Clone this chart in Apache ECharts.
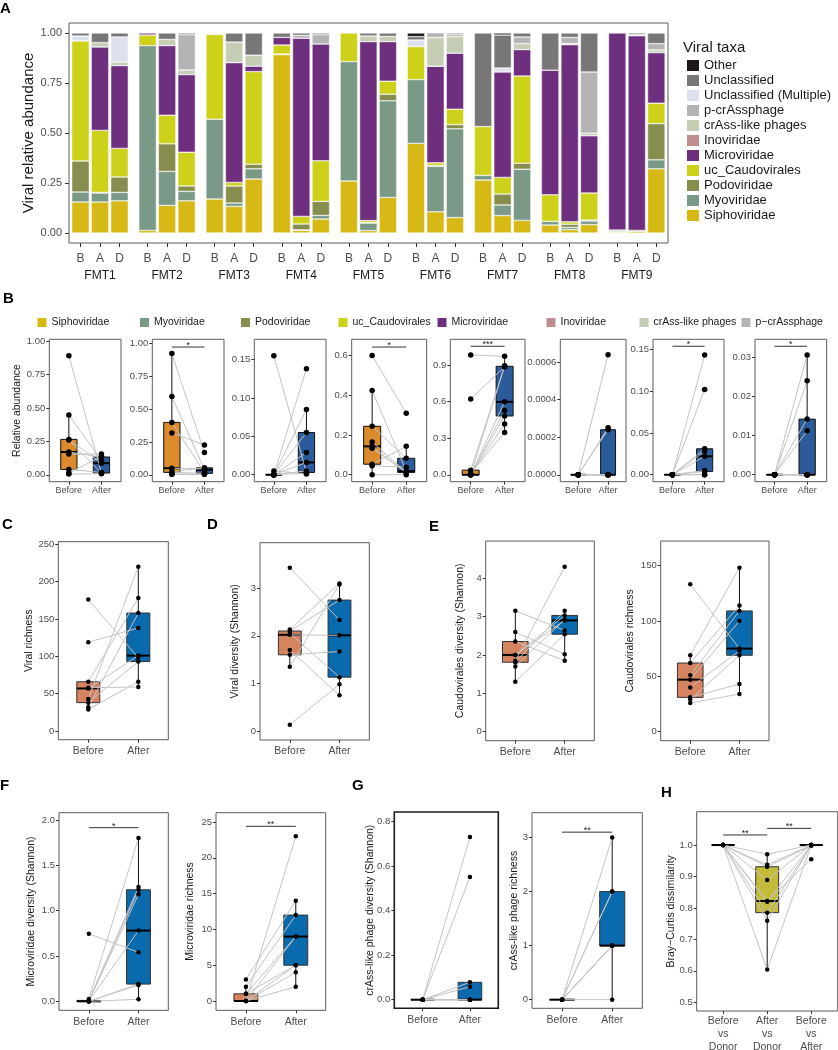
<!DOCTYPE html>
<html>
<head>
<meta charset="utf-8">
<script src="https://cdn.jsdelivr.net/npm/echarts@6/dist/echarts.min.js"></script>
<style>
  html, body { margin: 0; padding: 0; background: #fff; }
  #chart { width: 838px; height: 1050px; }
</style>
</head>
<body>
<div id="chart"></div>
<script>
const FONT = '"Liberation Sans", Arial, Helvetica, sans-serif'

// ---------- panel A: viral composition per sample (order: FMTn B, A, D)
const fmtNames = ['FMT1', 'FMT2', 'FMT3', 'FMT4', 'FMT5', 'FMT6', 'FMT7', 'FMT8', 'FMT9']
const sampleCodes = ['B', 'A', 'D']
const abundanceTicks = ['0.00', '0.25', '0.50', '0.75', '1.00']

const siphoviridae = [
  0.155, 0.155, 0.161, 0.013, 0.138, 0.161, 0.17, 0.133, 0.27,
  0.892, 0.013, 0.07, 0.26, 0.012, 0.178, 0.448, 0.106, 0.077,
  0.265, 0.087, 0.063, 0.04, 0.017, 0.042, 0.005, 0.008, 0.321
]
const myoviridae = [
  0.05, 0.045, 0.042, 0.924, 0.17, 0.047, 0.399, 0.017, 0.051,
  0.003, 0.003, 0.018, 0.597, 0.038, 0.483, 0.319, 0.227, 0.444,
  0.023, 0.053, 0.256, 0.018, 0.011, 0.018, 0.005, 0.004, 0.045
]
const podoviridae = [
  0.155, 0.003, 0.077, 0, 0.138, 0.027, 0, 0.085, 0.023,
  0, 0.029, 0.07, 0, 0.002, 0.033, 0, 0.005, 0.021,
  0, 0.055, 0.03, 0, 0.016, 0.005, 0.005, 0.001, 0.181
]
const ucCaudovirales = [
  0.6, 0.31, 0.143, 0.053, 0.143, 0.169, 0.424, 0.018, 0.463,
  0.045, 0.038, 0.203, 0.143, 0.01, 0.065, 0.165, 0.013, 0.077,
  0.244, 0.083, 0.436, 0.133, 0.012, 0.135, 0, 0, 0.102
]
const microviridae = [
  0, 0.417, 0.414, 0.01, 0.348, 0.388, 0, 0.599, 0.027,
  0.038, 0.891, 0.584, 0, 0.895, 0.198, 0, 0.483, 0.28,
  0, 0.527, 0.132, 0.623, 0.886, 0.286, 0.985, 0.973, 0.253
]
const inoviridae = [
  0, 0, 0, 0, 0, 0, 0, 0.00064, 0,
  0, 0, 0, 0, 0, 0, 0, 0.00025, 0,
  0, 0, 0, 0, 0.00024, 0, 0, 0, 0
]
const crAssLike = [
  0, 0.022, 0.018, 0, 0.031, 0.023, 0, 0.102, 0.055,
  0, 0, 0, 0, 0.028, 0.026, 0, 0.143, 0.083,
  0, 0, 0.03, 0, 0.005, 0.013, 0, 0.004, 0.013
]
const pCrAssphage = [
  0, 0, 0, 0, 0, 0.177, 0, 0, 0,
  0, 0.0142, 0.047, 0, 0, 0, 0, 0.024, 0.011,
  0, 0, 0.033, 0, 0.0306, 0.306, 0, 0.0112, 0.032
]
const unclassifiedMultiple = [
  0.025, 0, 0.125, 0, 0, 0, 0.005, 0, 0,
  0, 0, 0, 0, 0, 0, 0.033, 0, 0,
  0, 0.02, 0, 0, 0, 0, 0, 0, 0
]
const unclassified = [
  0.015, 0.048, 0.02, 0, 0.032, 0.008, 0.002, 0.045, 0.111,
  0.022, 0.012, 0.008, 0, 0.015, 0.017, 0.017, 0, 0.007,
  0.468, 0.165, 0.02, 0.186, 0.022, 0.195, 0, 0, 0.053
]
const other = [
  0, 0, 0, 0, 0, 0, 0, 0, 0,
  0, 0, 0, 0, 0, 0, 0.018, 0, 0,
  0, 0.01, 0, 0, 0, 0, 0, 0, 0
]

// stack order, bottom to top
const taxa = [
  ['Siphoviridae', siphoviridae, '#d6b915'],
  ['Myoviridae', myoviridae, '#7a9a87'],
  ['Podoviridae', podoviridae, '#868d4d'],
  ['uc_Caudovirales', ucCaudovirales, '#cdd11a'],
  ['Microviridae', microviridae, '#6f2f7f'],
  ['Inoviridae', inoviridae, '#c18e8f'],
  ['crAss-like phages', crAssLike, '#c5cdb5'],
  ['p-crAssphage', pCrAssphage, '#b4b4b4'],
  ['Unclassified (Multiple)', unclassifiedMultiple, '#dde0ee'],
  ['Unclassified', unclassified, '#777777'],
  ['Other', other, '#1c1616']
]

// ---------- panel B: before/after per taxon (taken from the same samples)
const bTaxa = ['Siphoviridae', 'Myoviridae', 'Podoviridae', 'uc_Caudovirales',
  'Microviridae', 'Inoviridae', 'crAss-like phages', 'p-crAssphage']
const bTicks = [
  ['0.00', '0.25', '0.50', '0.75', '1.00'],
  ['0.00', '0.25', '0.50', '0.75', '1.00'],
  ['0.00', '0.05', '0.10', '0.15'],
  ['0.0', '0.2', '0.4', '0.6'],
  ['0.0', '0.3', '0.6', '0.9'],
  ['0.0000', '0.0002', '0.0004', '0.0006'],
  ['0.00', '0.05', '0.10', '0.15'],
  ['0.00', '0.01', '0.02', '0.03']
]
const bSignif = [null, '*', null, '*', '***', null, '*', '*']
const bSignifY = [null, 0.974, null, 0.643, 1.056, null, 0.1536, 0.0328]

// ---------- panels C-H (values paired by patient)
const viralRichnessBefore = [176, 119, 66, 58, 57, 43, 38, 32, 29]
const viralRichnessAfter = [98, 138, 178, 59, 101, 220, 93, 158, 66]
const viralShannonBefore = [3.43, 2.13, 2.1, 2.05, 2.02, 1.7, 1.6, 1.35, 0.13]
const viralShannonAfter = [2.33, 3.1, 2.75, 1.13, 2.01, 0.75, 1.67, 3.08, 0.98]
const caudoShannonBefore = [3.15, 2.6, 2.35, 2.0, 2.0, 1.85, 1.81, 1.7, 1.3]
const caudoShannonAfter = [2.64, 2.02, 1.85, 3.03, 2.9, 4.3, 3.15, 2.92, 2.54]
const caudoRichnessBefore = [133, 69, 62, 51, 47, 40, 31, 29, 26]
const caudoRichnessAfter = [75, 148, 114, 109, 100, 73, 43, 69, 34]
const microShannonBefore = [0.746, 0.025, 0.01, 0, 0, 0, 0, 0, 0]
const microShannonAfter = [0.54, 1.8, 1.26, 1.23, 1.18, 0.78, 0.19, 0.18, 0.022]
const microRichnessBefore = [3, 2, 1, 1, 0, 0, 0, 0, 0]
const microRichnessAfter = [14, 12, 9, 5, 23, 9, 5, 4, 2]
const crassShannonBefore = [0, 0, 0, 0, 0, 0, 0, 0, 0]
const crassShannonAfter = [0.73, 0.55, 0.078, 0.058, 0, 0, 0, 0, 0]
const crassRichnessBefore = [0, 0, 0, 0, 0, 0, 0, 0, 0]
const crassRichnessAfter = [3, 2, 2, 1, 1, 1, 1, 1, 0]
const brayBeforeDonor = [1, 1, 1, 1, 1, 1, 1, 1, 1]
const brayAfterDonor = [0.971, 0.937, 0.931, 0.889, 0.822, 0.82, 0.785, 0.759, 0.604]
const brayBeforeAfter = [1, 1, 0.998, 1, 0.955, 1, 1, 1, 1]

const beforeAfter = ['Before', 'After']
const brayGroups = ['Before\nvs\nDonor', 'After\nvs\nDonor', 'Before\nvs\nAfter']

// ---------- helpers
const grids = [], xAxes = [], yAxes = [], series = [], titles = [], legends = []

const addGrid = (rect, xAxis, yAxis) => {
  const gi = grids.length
  grids.push(Object.assign({ outerBoundsMode: 'none', containLabel: false }, rect))
  xAxes.push(Object.assign({ gridIndex: gi, nameMoveOverlap: false }, xAxis))
  yAxes.push(Object.assign({ gridIndex: gi, nameMoveOverlap: false }, yAxis))
  return gi
}

// ggplot style box stats (type 7 quantiles, 1.5 IQR whiskers)
const quantile = (s, p) => {
  const h = (s.length - 1) * p
  const lo = Math.floor(h)
  const hiV = lo + 1 < s.length ? s[lo + 1] : s[lo]
  return s[lo] + (h - lo) * (hiV - s[lo])
}
const boxStats = values => {
  const s = values.slice().sort((a, b) => a - b)
  const q1 = quantile(s, 0.25), med = quantile(s, 0.5), q3 = quantile(s, 0.75)
  const iqr = q3 - q1
  const inside = s.filter(v => v >= q1 - 1.5 * iqr - 1e-12 && v <= q3 + 1.5 * iqr + 1e-12)
  return [inside[0], q1, med, q3, inside[inside.length - 1]]
}

const pickLabel = (labels, v) => {
  const vals = labels.map(Number)
  let best = 0
  vals.forEach((t, i) => { if (Math.abs(t - v) < Math.abs(vals[best] - v)) best = i })
  return labels[best]
}

function boxPanel(cfg) {
  const yVals = cfg.yTicks.map(Number)
  const xVals = cfg.xLabels.map((_, i) => i + 1)
  const gi = addGrid(
    { left: cfg.left, top: cfg.top, width: cfg.width, height: cfg.height, show: true,
      borderColor: cfg.border || '#5c5c5c', borderWidth: cfg.borderWidth || 1, backgroundColor: 'transparent' },
    { type: 'value', min: 0.4, max: cfg.xLabels.length + 0.6,
      axisLine: { show: false, onZero: false }, splitLine: { show: false },
      axisTick: { show: true, length: 3, customValues: xVals, lineStyle: { color: '#333' } },
      axisLabel: { customValues: xVals, formatter: v => cfg.xLabels[Math.round(v) - 1],
        fontSize: cfg.xFont, color: '#4d4d4d', margin: cfg.xMargin, lineHeight: cfg.xLine, fontFamily: FONT } },
    { type: 'value', min: cfg.min, max: cfg.max,
      axisLine: { show: false, onZero: false }, splitLine: { show: false },
      axisTick: { show: true, length: 3, customValues: yVals, lineStyle: { color: '#333' } },
      axisLabel: { customValues: yVals, formatter: v => pickLabel(cfg.yTicks, v),
        fontSize: cfg.yFont, color: '#4d4d4d', margin: 4, fontFamily: FONT },
      name: cfg.yName || '', nameLocation: 'middle', nameGap: cfg.nameGap,
      nameTextStyle: { fontSize: cfg.nameFont, color: '#1a1a1a', fontFamily: FONT } }
  )

  const hw = cfg.boxW / 2
  series.push({
    type: 'custom', xAxisIndex: gi, yAxisIndex: gi, z: 2, silent: true,
    data: cfg.groups.map((vals, k) => [k + 1].concat(boxStats(vals))),
    encode: { x: 0, y: [1, 2, 3, 4, 5] },
    renderItem: (params, api) => {
      const x = api.value(0)
      const pt = d => api.coord([x, api.value(d)])
      const lo = pt(1), q1 = pt(2), med = pt(3), q3 = pt(4), hi = pt(5)
      const x0 = api.coord([x - hw, api.value(3)])[0]
      const x1 = api.coord([x + hw, api.value(3)])[0]
      return { type: 'group', children: [
        { type: 'line', shape: { x1: lo[0], y1: lo[1], x2: q1[0], y2: q1[1] }, style: { stroke: '#111', lineWidth: 1 } },
        { type: 'line', shape: { x1: q3[0], y1: q3[1], x2: hi[0], y2: hi[1] }, style: { stroke: '#111', lineWidth: 1 } },
        { type: 'rect', shape: { x: x0, y: q3[1], width: x1 - x0, height: q1[1] - q3[1] },
          style: { fill: cfg.colors[params.dataIndex], stroke: cfg.boxStroke, lineWidth: 1 } },
        { type: 'line', shape: { x1: x0, y1: med[1], x2: x1, y2: med[1] }, style: { stroke: '#000', lineWidth: 2 } }
      ] }
    }
  })

  // paired lines
  series.push({
    type: 'lines', coordinateSystem: 'cartesian2d', xAxisIndex: gi, yAxisIndex: gi,
    polyline: true, z: 3, silent: true,
    lineStyle: { color: '#c4c4c4', width: 1, opacity: 1 },
    data: cfg.groups[0].map((_, i) => ({ coords: cfg.groups.map((vals, k) => [k + 1, vals[i]]) }))
  })

  const pts = []
  cfg.groups.forEach((vals, k) => vals.forEach(v => pts.push([k + 1, v])))
  series.push({
    type: 'scatter', xAxisIndex: gi, yAxisIndex: gi, z: 4, silent: true,
    symbolSize: cfg.dot, itemStyle: { color: '#000', opacity: 1 }, data: pts
  })

  if (cfg.sig && cfg.sig.length) {
    series.push({
      type: 'custom', xAxisIndex: gi, yAxisIndex: gi, z: 5, silent: true,
      data: cfg.sig.map(s => [s[0], s[1], s[2]]),
      encode: { x: [0, 1], y: 2 },
      renderItem: (params, api) => {
        const a = api.coord([api.value(0), api.value(2)])
        const b = api.coord([api.value(1), api.value(2)])
        return { type: 'group', children: [
          { type: 'line', shape: { x1: a[0], y1: a[1], x2: b[0], y2: b[1] }, style: { stroke: '#333', lineWidth: 1 } },
          { type: 'text', x: (a[0] + b[0]) / 2, y: a[1] + 3,
            style: { text: cfg.sig[params.dataIndex][3], fill: '#222', fontSize: 9, align: 'center',
              verticalAlign: 'bottom', fontFamily: FONT } }
        ] }
      }
    })
  }
  return gi
}

// ---------- panel A
addGrid(
  { left: 69, top: 23, width: 599, height: 220, show: true, borderColor: '#5c5c5c', borderWidth: 1, backgroundColor: 'transparent' },
  { type: 'value', min: 0, max: 1, show: false },
  { type: 'value', min: -0.05, max: 1.05,
    axisLine: { show: false, onZero: false }, splitLine: { show: false },
    axisTick: { show: true, length: 4, customValues: abundanceTicks.map(Number), lineStyle: { color: '#333' } },
    axisLabel: { customValues: abundanceTicks.map(Number), formatter: v => pickLabel(abundanceTicks, v),
      fontSize: 11, color: '#4d4d4d', margin: 7, fontFamily: FONT },
    name: 'Viral relative abundance', nameLocation: 'middle', nameGap: 33,
    nameTextStyle: { fontSize: 15, color: '#1a1a1a', fontFamily: FONT } }
)

fmtNames.forEach((f, i) => {
  const gi = addGrid(
    { left: 70.75 + 67.1 * i, top: 23, width: 58.5, height: 220 },
    { type: 'category', data: sampleCodes,
      axisLine: { show: false, onZero: false },
      axisTick: { show: true, alignWithLabel: true, length: 4, lineStyle: { color: '#333' } },
      axisLabel: { fontSize: 12, color: '#4d4d4d', margin: 10, fontFamily: FONT },
      name: f, nameLocation: 'middle', nameGap: 27,
      nameTextStyle: { fontSize: 12, color: '#1a1a1a', fontFamily: FONT } },
    { type: 'value', min: -0.05, max: 1.05, show: false }
  )
  taxa.forEach(([name, values, color]) => {
    series.push({
      type: 'bar', name, xAxisIndex: gi, yAxisIndex: gi, stack: 'fmt' + i, barWidth: '90%',
      data: values.slice(3 * i, 3 * i + 3).map(v => (v === 0 ? '-' : v)),
      itemStyle: { color, borderColor: '#fff', borderWidth: 0.5 }
    })
  })
})

legends.push({
  data: taxa.map(t => t[0]).reverse(), orient: 'vertical', left: 687, top: 59,
  itemWidth: 12, itemHeight: 11, itemGap: 2, icon: 'rect', selectedMode: false, padding: 0,
  itemStyle: { borderWidth: 0 },
  textStyle: { fontSize: 13, color: '#1a1a1a', fontFamily: FONT }
})

// ---------- panel B
const bLeft = [49.3, 152.3, 254.3, 351.7, 450.3, 560.3, 653, 755]
const bRight = [121, 224, 326, 426.7, 525, 626, 724, 826.7]
const bMin = [-0.052, -0.053, -0.0091, -0.035, -0.057, -0.000037, -0.00833, -0.00178]
const bMax = [1.015, 1.033, 0.1764, 0.682, 1.113, 0.000722, 0.1619, 0.03458]
const bKeyLeft = [37.5, 140, 241, 338.5, 437.5, 546.5, 639.5, 741.5]

bTaxa.forEach((name, k) => {
  const values = taxa.find(t => t[0] === name)[1]
  const before = values.filter((_, i) => i % 3 === 0)
  const after = values.filter((_, i) => i % 3 === 1)
  boxPanel({
    left: bLeft[k], top: 339.3, width: bRight[k] - bLeft[k], height: 142.4,
    min: bMin[k], max: bMax[k], yTicks: bTicks[k], xLabels: beforeAfter,
    yName: k === 0 ? 'Relative abundance' : '', nameGap: 27, nameFont: 10.5,
    xFont: 9, xMargin: 4, yFont: 9.5, groups: [before, after],
    colors: ['#db8b2b', '#2c5b9b'], boxStroke: '#111', boxW: 0.5, dot: 5.5,
    sig: bSignif[k] ? [[1, 2, bSignifY[k], bSignif[k]]] : null
  })
  legends.push({
    data: [name], left: bKeyLeft[k], top: 317, itemWidth: 9, itemHeight: 9, icon: 'rect',
    selectedMode: false, padding: 0, itemStyle: { borderWidth: 0 },
    formatter: n => n.replace('p-', 'p\u2212'),
    textStyle: { fontSize: 10.5, color: '#1a1a1a', fontFamily: FONT }
  })
})

// ---------- panels C-H
const chColors = ['#d5845f', '#0a6aae']
const common = { xLabels: beforeAfter, xFont: 10.5, xMargin: 6, yFont: 9.5, nameFont: 10.5,
  colors: chColors, boxStroke: '#333', dot: 4.5 }

boxPanel(Object.assign({}, common, { left: 58.3, top: 541.7, width: 110, height: 198, min: -11.6, max: 253.5,
  yTicks: ['0', '50', '100', '150', '200', '250'], yName: 'Viral richness', nameGap: 24, boxW: 0.46,
  groups: [viralRichnessBefore, viralRichnessAfter] }))
boxPanel(Object.assign({}, common, { left: 260, top: 542.7, width: 109.3, height: 197.3, min: -0.19, max: 3.956,
  yTicks: ['0', '1', '2', '3'], yName: 'Viral diversity (Shannon)', nameGap: 19, boxW: 0.46,
  groups: [viralShannonBefore, viralShannonAfter] }))
boxPanel(Object.assign({}, common, { left: 485.7, top: 541, width: 108.6, height: 199.7, min: -0.235, max: 4.97,
  yTicks: ['0', '1', '2', '3', '4'], yName: 'Caudovirales diversity (Shannon)', nameGap: 20, boxW: 0.52,
  groups: [caudoShannonBefore, caudoShannonAfter] }))
boxPanel(Object.assign({}, common, { left: 660.7, top: 541, width: 108.3, height: 199.7, min: -8.1, max: 172.1,
  yTicks: ['0', '50', '100', '150'], yName: 'Caudovirales richness', nameGap: 25, boxW: 0.52,
  groups: [caudoRichnessBefore, caudoRichnessAfter] }))
boxPanel(Object.assign({}, common, { left: 59, top: 812.7, width: 109.3, height: 197.6, min: -0.099, max: 2.08,
  yTicks: ['0.0', '0.5', '1.0', '1.5', '2.0'], yName: 'Microviridae diversity (Shannon)', nameGap: 22, boxW: 0.48,
  groups: [microShannonBefore, microShannonAfter], sig: [[1, 2, 1.915, '*']] }))
boxPanel(Object.assign({}, common, { left: 216, top: 812.7, width: 109.7, height: 197.6, min: -1.3, max: 26.3,
  yTicks: ['0', '5', '10', '15', '20', '25'], yName: 'Microviridae richness', nameGap: 20, boxW: 0.48,
  groups: [microRichnessBefore, microRichnessAfter], sig: [[1, 2, 24.4, '**']] }))
boxPanel(Object.assign({}, common, { left: 394.3, top: 812, width: 104, height: 196.3, min: -0.0386, max: 0.842,
  yTicks: ['0.0', '0.2', '0.4', '0.6', '0.8'], yName: 'crAss-like phage diversity (Shannon)', nameGap: 19, boxW: 0.5,
  border: '#1a1a1a', borderWidth: 1.6,
  groups: [crassShannonBefore, crassShannonAfter] }))
boxPanel(Object.assign({}, common, { left: 532, top: 812.7, width: 110.3, height: 195.6, min: -0.16, max: 3.46,
  yTicks: ['0', '1', '2', '3'], yName: 'crAss-like phage richness', nameGap: 12, boxW: 0.5,
  groups: [crassRichnessBefore, crassRichnessAfter], sig: [[1, 2, 3.1, '**']] }))
boxPanel(Object.assign({}, common, { left: 696.7, top: 811.7, width: 141, height: 199.3, min: 0.4724, max: 1.106,
  yTicks: ['0.5', '0.6', '0.7', '0.8', '0.9', '1.0'], yName: 'Bray\u2212Curtis dissimilarity', nameGap: 20, boxW: 0.52,
  xLabels: brayGroups, xMargin: 4, xLine: 12.7, colors: ['#d5845f', '#c5bb3a', '#0a6aae'],
  groups: [brayBeforeDonor, brayAfterDonor, brayBeforeAfter],
  sig: [[1, 2, 1.032, '**'], [2, 3, 1.053, '**']] }))

// ---------- panel letters
const letters = [['A', 0, 1], ['B', 3, 291], ['C', 2, 517], ['D', 207, 517],
  ['E', 429, 519], ['F', 0, 778], ['G', 352, 778], ['H', 661, 785]]
letters.forEach(([t, x, y]) => titles.push({ text: t, left: x, top: y, padding: 0,
  textStyle: { fontSize: 15, fontWeight: 'bold', color: '#000', fontFamily: FONT } }))
titles.push({ text: 'Viral taxa', left: 683, top: 40, padding: 0,
  textStyle: { fontSize: 15, fontWeight: 'normal', color: '#1a1a1a', fontFamily: FONT } })

const chart = echarts.init(document.getElementById('chart'), null, { renderer: 'canvas' })
chart.setOption({
  animation: false,
  backgroundColor: '#fff',
  textStyle: { fontFamily: FONT },
  title: titles,
  legend: legends,
  grid: grids,
  xAxis: xAxes,
  yAxis: yAxes,
  series
})
</script>
</body>
</html>
